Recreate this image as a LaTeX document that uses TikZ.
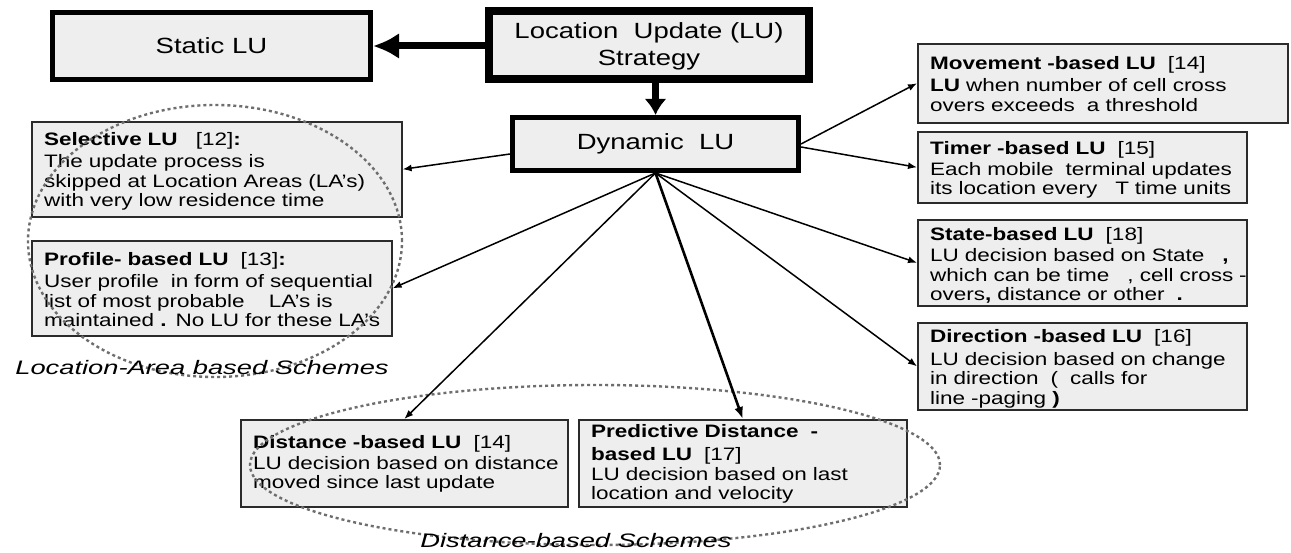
\documentclass[tikz,border=0pt]{standalone}
\usepackage{fontspec}
\setmainfont{Liberation Sans}[FakeStretch=1.25]
\newfontfamily\schemefont{Liberation Sans}[FakeStretch=1.4]
\usetikzlibrary{arrows.meta}

\definecolor{panel}{HTML}{EEEEEE}
\definecolor{rim}{HTML}{2B2B2B}
\definecolor{dots}{HTML}{6E6E6E}

\tikzset{
  heavybox/.style={draw=black, fill=panel, anchor=north west, inner sep=0pt,
    font=\fontsize{22}{21}\selectfont},
  headtext/.style={font=\fontsize{22}{27}\selectfont, align=center, inner sep=0pt},
  infobox/.style={draw=rim, fill=panel, line width=1.6pt, anchor=north west, inner sep=0pt},
  infotext/.style={anchor=base west, inner sep=0pt, text width=380pt, align=left,
    font=\fontsize{18}{19.5}\selectfont},
  link/.style={line width=1.5pt, -{Latex[length=9pt,width=7pt]}},
  scheme/.style={draw=dots, line width=2.4pt, dash pattern=on 3pt off 3pt},
  schemelabel/.style={font=\schemefont\itshape\fontsize{19.5}{22}\selectfont,
    inner sep=0pt, anchor=base},
}

% name, x, y (top-left corner), width, height, first baseline offset, text
\newcommand\infobox[7]{%
  \node[infobox, minimum width=#4pt, minimum height=#5pt] (#1) at (#2,#3) {};
  \node[infotext] at ([xshift=13pt,yshift=-#6pt]#1.north west) {#7};}

\begin{document}
\begin{tikzpicture}[x=1pt, y=-1pt]
\useasboundingbox (0,0) rectangle (1291,553);
\fill[white] (0,0) rectangle (1291,553);

% top level
\node[heavybox, line width=5pt, minimum width=318pt, minimum height=67pt]
  (static) at (50,10) {Static LU};
\node[heavybox, line width=8pt, minimum width=320pt, minimum height=68pt]
  (lu) at (485,7) {};
\node[headtext] at ([yshift=-1pt]lu.center) {Location\ \ Update (LU)\\Strategy};
\node[heavybox, line width=5pt, minimum width=286pt, minimum height=53pt]
  (dyn) at (510,115) {Dynamic\ \ LU};

% location-area based schemes
\infobox{sel}{31}{121}{370}{95}{25}{\textbf{Selective LU}\ \ \ [12]\textbf{:}\\[2.5pt]
  The update process is\\
  skipped at Location Areas (LA's)\\
  with very low residence time}
\infobox{pro}{31}{240}{360}{95}{26}{\textbf{Profile- based LU}\ \ [13]\textbf{:}\\[2.5pt]
  User profile\ \ in form of sequential\\
  list of most probable\ \ \ \ LA's\ is\\
  maintained\ \textbf{.} No LU\ for these LA's}

% right column
\infobox{mov}{917}{43}{370}{79}{27}{\textbf{Movement -based\ LU}\ \ [14]\\[2.5pt]
  \textbf{LU} when number of cell cross\\
  overs exceeds\ \ a threshold}
\infobox{tim}{917}{131}{329}{71}{24}{\textbf{Timer -based\ LU}\ \ [15]\\[1pt]
  Each mobile\ \ terminal updates\\
  its location every\ \ \ T time units}
\infobox{sta}{917}{219}{329}{86}{22}{\textbf{State-based\ LU}\ \ [18]\\[1.5pt]
  LU\ decision based on State\ \ \ \textbf{,}\\
  which can be time\ \ \ , cell cross -\\
  overs\textbf{,} distance or other\ \ \textbf{.}}
\infobox{dir}{917}{322}{329}{87}{21}{\textbf{Direction -based\ LU}\ \ [16]\\[3pt]
  LU\ decision based on change\\
  in\ direction\ \ (\ \ calls for\\
  line -paging \textbf{)}}

% distance based schemes
\infobox{dis}{240}{419}{327}{87}{29}{\textbf{Distance -based LU}\ \ [14]\\[1.5pt]
  LU decision based on distance\\
  moved since last update}
\infobox{pre}{578}{419}{328}{87}{18}{\textbf{Predictive Distance\ \ -}\\[3.5pt]
  \textbf{based LU}\ \ [17]\\[0.5pt]
  LU\ decision based on last\\
  location and velocity}

% grouping outlines
\draw[scheme] (215,241) ellipse [x radius=187pt, y radius=136pt];
\draw[scheme] (595,465) ellipse [x radius=345pt, y radius=80pt];
\node[schemelabel] at (202,374) {Location-Area based Schemes};
\node[schemelabel] at (576,547) {Distance-based Schemes};

% connectors
\draw[line width=7pt, -{Latex[length=26pt,width=26pt]}] (lu.west |- static.east) -- (static.east);
\draw[line width=7pt, -{Latex[length=16pt,width=22pt]}] (lu.south -| dyn.north) -- (dyn.north);
\draw[link] ([yshift=-10pt]dyn.west) -- (sel.east);
\draw[link] (dyn.east) -- (mov.west);
\draw[link] ([yshift=-3pt]dyn.east) -- (tim.west);
\draw[link] (dyn.south) -- (sta.west);
\draw[link] (dyn.south) -- (dir.west);
\draw[link] (dyn.south) -- (pro.east);
\draw[link] (dyn.south) -- (dis.north);
\draw[link, line width=2.6pt, -{Latex[length=12pt,width=9pt]}] (dyn.south) -- (pre.north);
\end{tikzpicture}
\end{document}
